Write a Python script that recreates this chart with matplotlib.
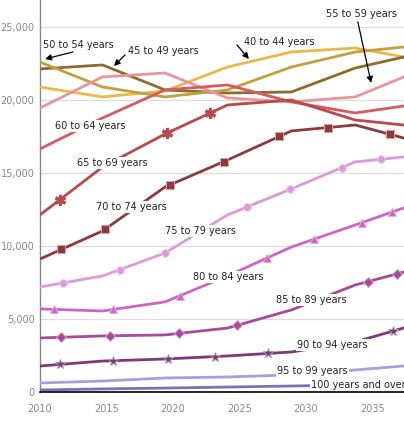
import numpy as np
import matplotlib
matplotlib.use("Agg")
import matplotlib.pyplot as plt
from matplotlib.ticker import FuncFormatter

# vertex years of every series
years = [2010, 2014.7, 2019.4, 2024.1, 2028.9, 2033.7, 2038.4]

groups = ["40 to 44 years", "45 to 49 years", "50 to 54 years", "55 to 59 years",
          "60 to 64 years", "65 to 69 years", "70 to 74 years", "75 to 79 years",
          "80 to 84 years", "85 to 89 years", "90 to 94 years", "95 to 99 years",
          "100 years and over"]

v40 = [20890, 20210, 20620, 22260, 23290, 23560, 22770]
v45 = [22130, 22400, 20690, 20480, 20550, 22190, 23160]
v50 = [22600, 20890, 20210, 20690, 22260, 23290, 23730]
v55 = [19450, 21580, 21850, 20140, 19870, 20210, 21970]
v60 = [16650, 18770, 20690, 21030, 19870, 19110, 19730]
v65 = [12130, 15410, 17670, 19660, 20000, 18630, 18190]
v70 = [9110, 11030, 14040, 15890, 17880, 18290, 17140]
v75 = [7190, 7950, 9520, 12130, 13910, 15760, 16200]
v80 = [5690, 5550, 6170, 7950, 9930, 11440, 12940]
v85 = [3700, 3840, 3910, 4380, 5620, 7330, 8470]
v90 = [1780, 2120, 2260, 2470, 2740, 3430, 4660]
v95 = [620, 750, 960, 1030, 1170, 1510, 1860]
v100 = [140, 210, 270, 340, 410, 480, 550]

series = [v40, v45, v50, v55, v60, v65, v70, v75, v80, v85, v90, v95, v100]

colors = ["#e6b94c", "#8c6b2c", "#c4a03c", "#e8959c", "#d65a5f", "#b84a4a",
          "#8c3a3e", "#dd9ad8", "#cc66c4", "#a64b9c", "#7a3a78", "#a99ee0",
          "#7a70b8"]

# years where the markers sit on a line
marker_years = {
    5: [2011.5, 2019.55, 2022.8],
    6: [2011.6, 2014.9, 2019.8, 2023.8, 2028.0, 2031.65, 2036.3],
    7: [2011.7, 2016.0, 2019.4, 2025.55, 2028.8, 2032.7, 2035.65],
    8: [2011.05, 2015.5, 2020.5, 2027.1, 2030.6, 2034.2, 2036.5],
    9: [2011.6, 2015.25, 2020.45, 2024.8, 2034.65, 2036.85],
    10: [2011.5, 2015.5, 2019.6, 2023.15, 2027.15, 2036.55],
}
marker_style = {
    5: dict(marker=(6, 2, 0), ms=8, mew=2.2),
    6: dict(marker="s", ms=5.2, mew=0.7, mec="#d9a0a4"),
    7: dict(marker="o", ms=5.5, mew=0.7, mec="#f0c8ee"),
    8: dict(marker="^", ms=6, mew=0.7, mec="#e6a8e0"),
    9: dict(marker="D", ms=5, mew=0.7, mec="#d8a0d2"),
    10: dict(marker="*", ms=7.5, mew=0.7, mec="#b890b6"),
}

# label positions (text left edge, vertical centre) in data units
label_pos = [(2025.35, 23975), (2016.62, 23360), (2010.25, 23770), (2031.5, 25890),
             (2011.13, 18220), (2012.78, 15690), (2014.21, 12670), (2019.4, 11030),
             (2021.5, 7880), (2027.74, 6300), (2029.32, 3220), (2027.82, 1440),
             (2030.38, 480)]
# arrows: (tail, tip)
arrows = {
    0: ((2024.81, 23770), (2025.71, 22810)),
    1: ((2016.39, 23085), (2015.56, 22330)),
    2: ((2012.48, 23290), (2010.38, 22810)),
    3: ((2033.9, 25345), (2034.9, 21170)),
}

fig = plt.figure(figsize=(4.04, 4.24), dpi=100)
ax = fig.add_axes([40 / 404, 32 / 424, 364 / 404, 392 / 424])

for i, vals in enumerate(series):
    ax.plot(years, vals, color=colors[i], lw=2.0, solid_capstyle="butt", zorder=3)
    if i in marker_years:
        mx = marker_years[i]
        my = np.interp(mx, years, vals)
        st = dict(marker_style[i])
        st.setdefault("mec", colors[i])
        ax.plot(mx, my, ls="none", color=colors[i], mfc=colors[i], zorder=4, **st)

for i, (lx, ly) in enumerate(label_pos):
    ax.text(lx, ly, groups[i], ha="left", va="center", fontsize=7, color="#222222",
            zorder=6, bbox=dict(facecolor="white", edgecolor="none", pad=0.8),
            clip_on=False)

for i, (tail, tip) in arrows.items():
    ax.annotate("", xy=tip, xytext=tail, zorder=7,
                arrowprops=dict(arrowstyle="-|>", color="black", lw=0.9,
                                mutation_scale=9, shrinkA=0, shrinkB=0))

ax.set_xlim(2010, 2037.37)
ax.set_ylim(0, 26850)
ax.set_xticks([2010, 2015, 2020, 2025, 2030, 2035])
ax.set_yticks([0, 5000, 10000, 15000, 20000, 25000])
ax.yaxis.set_major_formatter(FuncFormatter(lambda v, p: f"{int(v):,}"))
ax.tick_params(axis="both", length=0, labelsize=7, labelcolor="#888888")
ax.tick_params(axis="x", pad=9)
ax.tick_params(axis="y", pad=4)
ax.grid(axis="y", color="#dddddd", lw=0.9, zorder=0)
ax.set_axisbelow(True)
for s in ["top", "right"]:
    ax.spines[s].set_visible(False)
ax.spines["left"].set_color("#888888")
ax.spines["left"].set_linewidth(1.0)
ax.spines["bottom"].set_color("black")
ax.spines["bottom"].set_linewidth(1.2)
ax.spines["bottom"].set_zorder(5)

fig.savefig("out.png", dpi=100)
